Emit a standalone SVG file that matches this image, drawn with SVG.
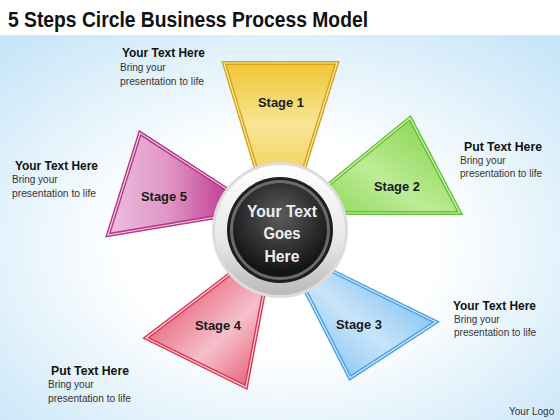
<svg xmlns="http://www.w3.org/2000/svg" width="560" height="420" viewBox="0 0 560 420">
<defs>
<radialGradient id="bg" cx="50%" cy="55%" r="70%">
<stop offset="0.4" stop-color="#ffffff"/>
<stop offset="1" stop-color="#c9e6f8"/>
</radialGradient>
<linearGradient id="gY" x1="0" y1="0" x2="0" y2="1"><stop offset="0" stop-color="#f0c634"/><stop offset="0.55" stop-color="#f9e594"/><stop offset="1" stop-color="#f4d260"/></linearGradient>
<linearGradient id="gG" x1="1" y1="0" x2="0" y2="1"><stop offset="0" stop-color="#7ccf40"/><stop offset="0.6" stop-color="#bdec96"/><stop offset="1" stop-color="#8fd85a"/></linearGradient>
<linearGradient id="gB" x1="1" y1="0" x2="0" y2="1"><stop offset="0" stop-color="#5fb1ee"/><stop offset="0.55" stop-color="#c8e4fa"/><stop offset="1" stop-color="#78bdf0"/></linearGradient>
<linearGradient id="gR" x1="0" y1="0" x2="1" y2="1"><stop offset="0" stop-color="#e03654"/><stop offset="0.6" stop-color="#f5c0cb"/><stop offset="1" stop-color="#e5526e"/></linearGradient>
<linearGradient id="gP" x1="0" y1="0" x2="1" y2="0"><stop offset="0" stop-color="#ecbedc"/><stop offset="0.5" stop-color="#e096c6"/><stop offset="1" stop-color="#c03f94"/></linearGradient>
<linearGradient id="ring" x1="0" y1="0" x2="0" y2="1"><stop offset="0" stop-color="#ffffff"/><stop offset="0.6" stop-color="#e6e6e6"/><stop offset="1" stop-color="#b9b9b9"/></linearGradient>
<radialGradient id="ball" cx="50%" cy="35%" r="60%"><stop offset="0" stop-color="#5c5c5c"/><stop offset="0.7" stop-color="#2a2a2a"/><stop offset="1" stop-color="#141414"/></radialGradient>
<style>
.h{font-family:"Liberation Sans",Arial,sans-serif;font-weight:bold;font-size:12px;fill:#111}
.b{font-family:"Liberation Sans",Arial,sans-serif;font-size:10px;fill:#333}
.s{font-family:"Liberation Sans",Arial,sans-serif;font-weight:bold;font-size:13px;fill:#1a1a1a;text-anchor:middle}
.c{font-family:"Liberation Sans",Arial,sans-serif;font-weight:bold;font-size:16px;fill:#eeeeee;text-anchor:middle}
.in{fill:none;stroke-width:1.2;stroke-linejoin:miter}
</style>
</defs>
<rect x="0" y="0" width="560" height="420" fill="#ffffff"/>
<rect x="0" y="35" width="560" height="385" fill="url(#bg)"/>
<text x="8" y="27" font-family="'Liberation Sans',Arial,sans-serif" font-weight="bold" font-size="22" fill="#111" textLength="360" lengthAdjust="spacingAndGlyphs">5 Steps Circle Business Process Model</text>

<g id="stage1">
<polygon points="224,63 337,63 302,175 258,175" fill="url(#gY)" stroke="#d4a418" stroke-width="4"/>
<polygon points="224,63 337,63 302,175 258,175" class="in" stroke="#fbe9a5"/>
<text class="s" x="281" y="107" textLength="46" lengthAdjust="spacingAndGlyphs">Stage 1</text>
</g>
<g id="stage2">
<polygon points="410,118 460,213 330,213 322,190" fill="url(#gG)" stroke="#66bf34" stroke-width="4"/>
<polygon points="410,118 460,213 330,213 322,190" class="in" stroke="#d6f3bf"/>
<text class="s" x="397" y="191" textLength="46" lengthAdjust="spacingAndGlyphs">Stage 2</text>
</g>
<g id="stage3">
<polygon points="322,266 436,322 350,378 305,290" fill="url(#gB)" stroke="#4aa3ea" stroke-width="4"/>
<polygon points="322,266 436,322 350,378 305,290" class="in" stroke="#d6ebfb"/>
<text class="s" x="359" y="329" textLength="46" lengthAdjust="spacingAndGlyphs">Stage 3</text>
</g>
<g id="stage4">
<polygon points="230,274 146,338 246,387 264,292" fill="url(#gR)" stroke="#dc3452" stroke-width="4"/>
<polygon points="230,274 146,338 246,387 264,292" class="in" stroke="#fbd5dc"/>
<text class="s" x="218" y="330" textLength="46" lengthAdjust="spacingAndGlyphs">Stage 4</text>
</g>
<g id="stage5">
<polygon points="140,133 228,190 228,215 108,235" fill="url(#gP)" stroke="#b33587" stroke-width="4"/>
<polygon points="140,133 228,190 228,215 108,235" class="in" stroke="#f1cde4"/>
<text class="s" x="164" y="201" textLength="46" lengthAdjust="spacingAndGlyphs">Stage 5</text>
</g>

<g id="center">
<circle cx="280" cy="230" r="68" fill="#dcdcdc"/>
<circle cx="280" cy="230" r="65" fill="url(#ring)"/>
<circle cx="280" cy="230" r="53" fill="#1e1e1e"/>
<circle cx="280" cy="230" r="50" fill="#6a6a6a"/>
<circle cx="280" cy="230" r="47" fill="url(#ball)"/>
<text class="c" x="282" y="217" textLength="70" lengthAdjust="spacingAndGlyphs">Your Text</text>
<text class="c" x="282" y="239" textLength="37" lengthAdjust="spacingAndGlyphs">Goes</text>
<text class="c" x="282" y="262" textLength="35" lengthAdjust="spacingAndGlyphs">Here</text>
</g>

<g id="t1">
<text class="h" x="122" y="57" textLength="83" lengthAdjust="spacingAndGlyphs">Your Text Here</text>
<text class="b" x="120" y="71">Bring your</text>
<text class="b" x="120" y="85" textLength="84" lengthAdjust="spacingAndGlyphs">presentation to life</text>
</g>
<g id="t2">
<text class="h" x="464" y="151" textLength="78" lengthAdjust="spacingAndGlyphs">Put Text Here</text>
<text class="b" x="460" y="164">Bring your</text>
<text class="b" x="460" y="177" textLength="82" lengthAdjust="spacingAndGlyphs">presentation to life</text>
</g>
<g id="t3">
<text class="h" x="453" y="310" textLength="83" lengthAdjust="spacingAndGlyphs">Your Text Here</text>
<text class="b" x="454" y="323">Bring your</text>
<text class="b" x="454" y="336" textLength="82" lengthAdjust="spacingAndGlyphs">presentation to life</text>
</g>
<g id="t4">
<text class="h" x="51" y="375" textLength="78" lengthAdjust="spacingAndGlyphs">Put Text Here</text>
<text class="b" x="48" y="388">Bring your</text>
<text class="b" x="48" y="402" textLength="83" lengthAdjust="spacingAndGlyphs">presentation to life</text>
</g>
<g id="t5">
<text class="h" x="15" y="170" textLength="83" lengthAdjust="spacingAndGlyphs">Your Text Here</text>
<text class="b" x="12" y="183">Bring your</text>
<text class="b" x="12" y="197" textLength="84" lengthAdjust="spacingAndGlyphs">presentation to life</text>
</g>
<text class="b" x="509" y="415">Your Logo</text>
<g id="connectors"/>
</svg>
